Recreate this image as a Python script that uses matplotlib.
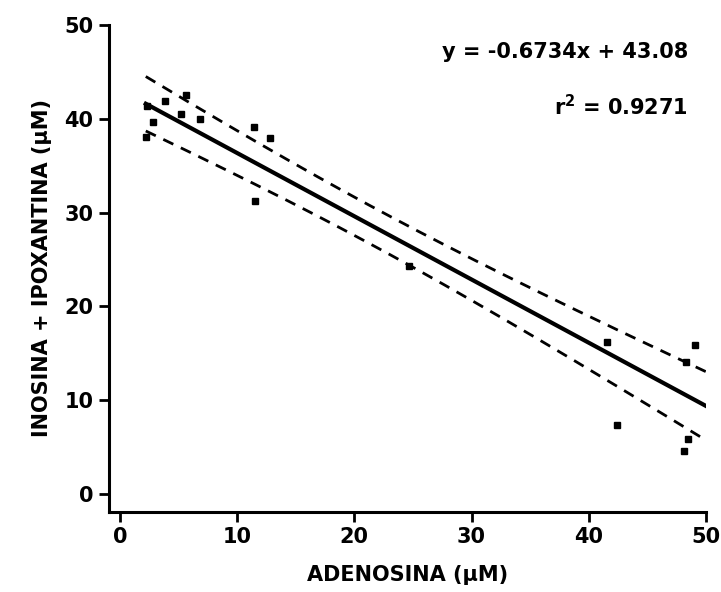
import numpy as np
import matplotlib.pyplot as plt

plt.rcParams['font.family'] = ['DejaVu Sans']
plt.rcParams['font.weight'] = 'bold'
plt.rcParams['mathtext.default'] = 'bf'

# adenosine vs inosine + hypoxanthine (uM)
adenosina = [2.3, 2.2, 2.8, 3.8, 5.6, 5.2, 6.8, 11.4, 12.8, 11.5, 24.7,
             41.6, 42.4, 49.1, 48.3, 48.5, 48.1]
ino_hipo = [41.4, 38.1, 39.6, 41.9, 42.5, 40.5, 40.0, 39.1, 38.0, 31.2, 24.3,
            16.2, 7.4, 15.9, 14.1, 5.9, 4.6]

slope = -0.6734
intercept = 43.08
r2 = 0.9271

x = np.array(adenosina)
y = np.array(ino_hipo)
n = len(x)

# 95% confidence band of the fitted line
xs = np.linspace(x.min(), 50, 200)
fit = slope * xs + intercept
resid = y - (slope * x + intercept)
s = np.sqrt(np.sum(resid ** 2) / (n - 2))
sxx = np.sum((x - x.mean()) ** 2)
t = 2.12
half = t * s * np.sqrt(1 / n + (xs - x.mean()) ** 2 / sxx)

fig = plt.figure(figsize=(7.21, 5.92), dpi=100)
ax = fig.add_axes([0.151, 0.135, 0.828, 0.823])

ax.plot(x, y, 's', color='black', markersize=5)
ax.plot(xs, fit, '-', color='black', lw=3)
ax.plot(xs, fit + half, '--', color='black', lw=2, dashes=(4, 3))
ax.plot(xs, fit - half, '--', color='black', lw=2, dashes=(4, 3))

ax.set_xlim(-0.95, 50)
ax.set_ylim(-1.9, 50)
ax.set_xticks([0, 10, 20, 30, 40, 50])
ax.set_yticks([0, 10, 20, 30, 40, 50])
for sp in ['top', 'right']:
    ax.spines[sp].set_visible(False)
for sp in ['left', 'bottom']:
    ax.spines[sp].set_linewidth(2.2)
ax.tick_params(width=2, length=7, labelsize=15, direction='out', pad=4)

ax.set_xlabel('ADENOSINA (μM)', fontsize=15, fontweight='bold', labelpad=13)
ax.set_ylabel('INOSINA + IPOXANTINA (μM)', fontsize=15, fontweight='bold', labelpad=9)

ax.text(0.97, 0.945, 'y = -0.6734x + 43.08', transform=ax.transAxes,
        ha='right', va='center', fontsize=15, fontweight='bold')
ax.text(0.97, 0.832, 'r$^2$ = %.4f' % r2, transform=ax.transAxes,
        ha='right', va='center', fontsize=15, fontweight='bold')

fig.savefig('out.png', dpi=100)
